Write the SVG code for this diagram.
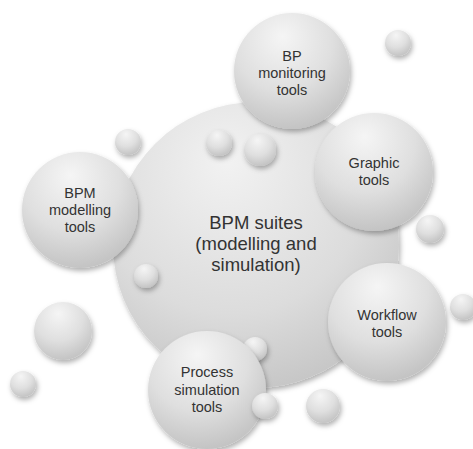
<svg xmlns="http://www.w3.org/2000/svg" width="473" height="449" viewBox="0 0 473 449">
<defs>
<radialGradient id="g" cx="0.42" cy="0.28" r="0.78" fx="0.42" fy="0.2">
<stop offset="0" stop-color="#f5f5f5"/>
<stop offset="0.55" stop-color="#dfdfdf"/>
<stop offset="1" stop-color="#bfbfbf"/>
</radialGradient>
<radialGradient id="gb" cx="0.42" cy="0.3" r="0.8" fx="0.4" fy="0.2">
<stop offset="0" stop-color="#f2f2f2"/>
<stop offset="0.6" stop-color="#dcdcdc"/>
<stop offset="1" stop-color="#c0c0c0"/>
</radialGradient>
<filter id="sh" x="-30%" y="-30%" width="160%" height="160%">
<feDropShadow dx="1.5" dy="3" stdDeviation="2.5" flood-color="#000" flood-opacity="0.3"/>
</filter>
<style>
.c{fill:url(#g);filter:url(#sh);}
.big{fill:url(#gb);filter:url(#sh);}
.t{font-family:"Liberation Sans",Arial,sans-serif;font-size:14.5px;fill:#333333;text-anchor:middle;}
.tb{font-family:"Liberation Sans",Arial,sans-serif;font-size:18.5px;fill:#333333;text-anchor:middle;}
</style>
</defs>
<rect width="473" height="449" fill="#ffffff"/>
<g id="ball-a"><circle class="c" cx="128" cy="142" r="13"/></g>
<g id="main">
<circle class="big" cx="256" cy="245" r="143"/>
<text class="tb" x="256" y="229">BPM suites</text>
<text class="tb" x="256" y="250">(modelling and</text>
<text class="tb" x="256" y="271">simulation)</text>
</g>
<g id="balls">
<circle class="c" cx="398" cy="43" r="13"/>
<circle class="c" cx="219" cy="143" r="13"/>
<circle class="c" cx="260" cy="150" r="16"/>
<circle class="c" cx="430" cy="229" r="14"/>
<circle class="c" cx="463" cy="307" r="13"/>
<circle class="c" cx="323" cy="406" r="17"/>
<circle class="c" cx="146" cy="276" r="12"/>
<circle class="c" cx="63" cy="331" r="29"/>
<circle class="c" cx="23" cy="384" r="13"/>
<circle class="c" cx="255" cy="349" r="12"/>
</g>
<g id="bp-monitoring">
<circle class="c" cx="292" cy="71" r="58"/>
<text class="t" x="292" y="61">BP</text>
<text class="t" x="292" y="78">monitoring</text>
<text class="t" x="292" y="95">tools</text>
</g>
<g id="graphic">
<circle class="c" cx="374" cy="172" r="59"/>
<text class="t" x="374" y="168">Graphic</text>
<text class="t" x="374" y="185">tools</text>
</g>
<g id="bpm-modelling">
<circle class="c" cx="80" cy="210" r="58"/>
<text class="t" x="80" y="198">BPM</text>
<text class="t" x="80" y="215">modelling</text>
<text class="t" x="80" y="232">tools</text>
</g>
<g id="workflow">
<circle class="c" cx="387" cy="322" r="59"/>
<text class="t" x="387" y="320">Workflow</text>
<text class="t" x="387" y="337">tools</text>
</g>
<g id="process-simulation">
<circle class="c" cx="207" cy="390" r="59"/>
<text class="t" x="207" y="377">Process</text>
<text class="t" x="207" y="395">simulation</text>
<text class="t" x="207" y="412">tools</text>
</g>
<g id="ball-b"><circle class="c" cx="265" cy="406" r="13"/></g>
</svg>
